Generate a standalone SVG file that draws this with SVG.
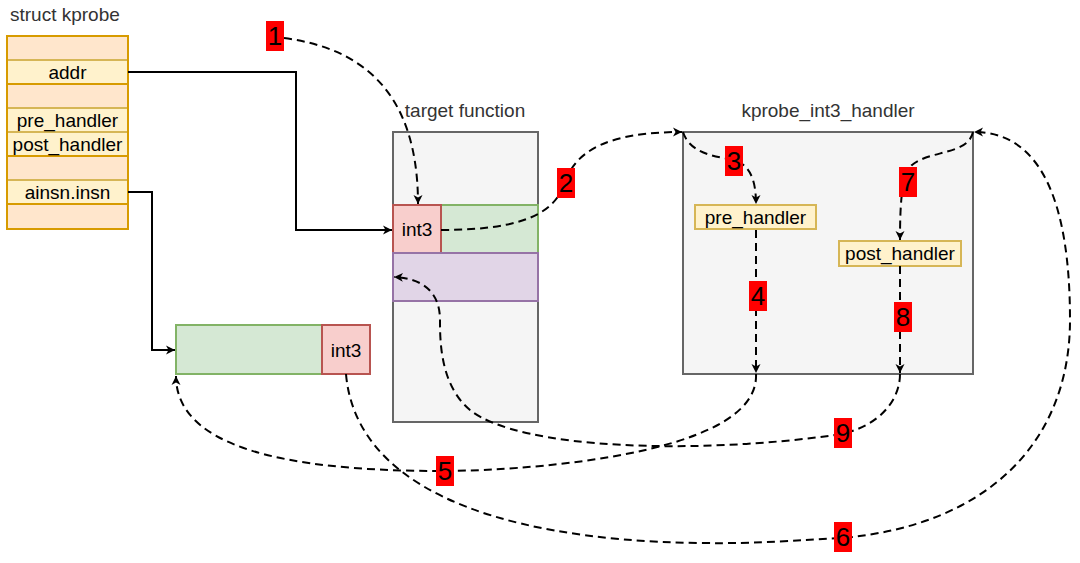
<svg xmlns="http://www.w3.org/2000/svg" width="1080" height="563" viewBox="0 0 1080 563">
<style>
text{font-family:"Liberation Sans",Arial,sans-serif;font-size:19px;fill:#000}
.title{fill:#333}
.peach{fill:#ffe6cc;stroke:#d79b00;stroke-width:2}
.yel{fill:#fff2cc;stroke:#d6b656;stroke-width:2}
.grey{fill:#f5f5f5;stroke:#666;stroke-width:2}
.red{fill:#f8cecc;stroke:#b85450;stroke-width:2}
.green{fill:#d5e8d4;stroke:#82b366;stroke-width:2}
.purple{fill:#e1d5e7;stroke:#9673a6;stroke-width:2}
.solid{fill:none;stroke:#000;stroke-width:2;marker-end:url(#arr)}
.dash{fill:none;stroke:#000;stroke-width:2;stroke-dasharray:8 5;marker-end:url(#arr)}
.dashn{fill:none;stroke:#000;stroke-width:2;stroke-dasharray:8 5}
.lbl rect{fill:#ff0000}
.lbl text{font-size:26px;text-anchor:middle}
.c{text-anchor:middle}
</style>
<defs>
<marker id="arr" markerUnits="userSpaceOnUse" markerWidth="10" markerHeight="10" refX="9" refY="5" orient="auto">
<path d="M0,0.5 L9,5 L0,9.5 L2.5,5 Z" fill="#000"/>
</marker>
</defs>
<rect width="1080" height="563" fill="#fff"/>

<g id="struct-kprobe">
<text class="title" x="10" y="21">struct kprobe</text>
<rect class="peach" x="7" y="36" width="121" height="24"/>
<rect class="yel" x="7" y="60" width="121" height="24"/>
<rect class="peach" x="7" y="84" width="121" height="24"/>
<rect class="yel" x="7" y="108" width="121" height="24"/>
<rect class="yel" x="7" y="132" width="121" height="24"/>
<rect class="peach" x="7" y="156" width="121" height="24"/>
<rect class="yel" x="7" y="180" width="121" height="24"/>
<rect class="peach" x="7" y="204" width="121" height="25"/>
<rect x="7" y="36" width="121" height="193" fill="none" stroke="#d79b00" stroke-width="2"/>
<text class="c" x="67.5" y="79">addr</text>
<text class="c" x="67.5" y="127">pre_handler</text>
<text class="c" x="67.5" y="151">post_handler</text>
<text class="c" x="67.5" y="199">ainsn.insn</text>
</g>

<g id="target-function">
<text class="title c" x="465" y="117">target function</text>
<rect class="grey" x="393" y="132" width="145" height="290"/>
<rect class="green" x="441" y="205" width="97" height="48"/>
<rect class="red" x="393" y="205" width="48" height="48"/>
<rect class="purple" x="393" y="253" width="145" height="48"/>
<text class="c" x="417" y="236">int3</text>
</g>

<g id="copied-insn">
<rect class="green" x="176" y="325" width="146" height="49"/>
<rect class="red" x="322" y="325" width="48" height="49"/>
<text class="c" x="346" y="357">int3</text>
</g>

<g id="kprobe-int3-handler">
<text class="title c" x="828" y="117">kprobe_int3_handler</text>
<rect class="grey" x="683" y="132" width="290" height="242"/>
</g>

<g id="pre-handler">
<rect class="yel" x="695" y="205" width="121" height="24"/>
<text class="c" x="755.5" y="224">pre_handler</text>
</g>

<g id="post-handler">
<rect class="yel" x="839" y="241" width="122" height="25"/>
<text class="c" x="900" y="260">post_handler</text>
</g>

<g id="connectors">
<path class="solid" d="M128,72 H296 V230 H392"/>
<path class="solid" d="M128,192 H152 V350 H175"/>
<path class="dash" d="M284,38 C360,48 418,90 418,204"/>
<path class="dash" d="M441,230 C530,230 555,210 565,183 C575,150 610,132 682,132"/>
<path class="dash" d="M683,132 C690,155 720,157 734,160 C750,165 756,180 756,204"/>
<path class="dash" d="M756,230 V373"/>
<path class="dash" d="M756,374 C760,460 500,471 444,471 C330,471 176,460 176,376"/>
<path class="dash" d="M346,374 C355,480 480,540 700,543 C760,544 800,540 842,538 C990,525 1070,440 1070,320 C1070,200 1040,132 974,132"/>
<path class="dash" d="M973,132 C968,155 930,150 912,165 C902,175 900,200 900,240"/>
<path class="dash" d="M900,266 V373"/>
<path class="dash" d="M900,374 C900,400 880,425 842,434 C700,455 520,450 470,410 C440,385 440,340 440,320 C440,290 420,278 394,277"/>
</g>

<g id="edge-labels" class="lbl">
<rect x="266" y="21" width="18" height="30"/><text x="275" y="45">1</text>
<rect x="557" y="168" width="18" height="30"/><text x="566" y="192">2</text>
<rect x="725" y="146" width="18" height="30"/><text x="734" y="170">3</text>
<rect x="749" y="281" width="18" height="30"/><text x="758" y="305">4</text>
<rect x="436" y="456" width="18" height="30"/><text x="445" y="480">5</text>
<rect x="834" y="522" width="18" height="30"/><text x="843" y="546">6</text>
<rect x="899" y="167" width="18" height="30"/><text x="908" y="191">7</text>
<rect x="894" y="302" width="18" height="30"/><text x="903" y="326">8</text>
<rect x="834" y="418" width="18" height="30"/><text x="843" y="442">9</text>
</g>
</svg>
